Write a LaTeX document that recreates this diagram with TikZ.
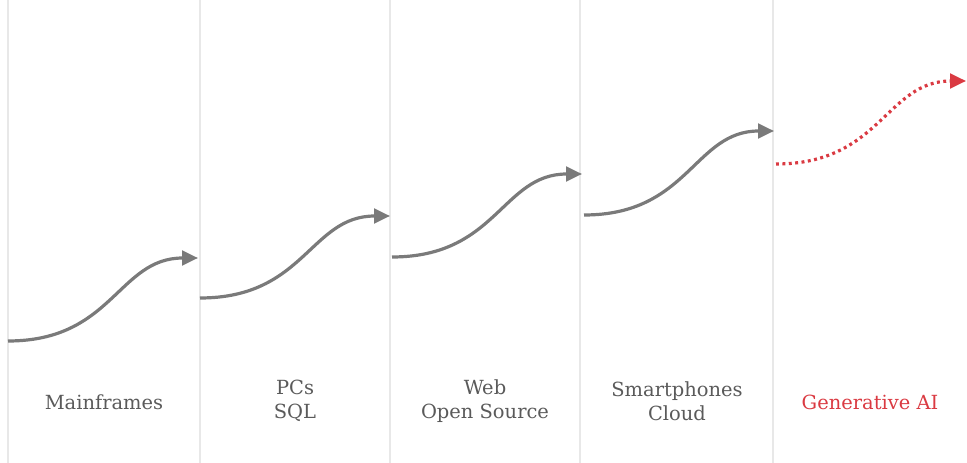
\documentclass[tikz,border=0pt]{standalone}
\usepackage{fontspec}
\setmainfont{DejaVu Serif}
\usetikzlibrary{arrows.meta}
\definecolor{waveGray}{HTML}{7A7A7A}
\definecolor{labelGray}{HTML}{5A5A5A}
\definecolor{aiRed}{HTML}{DA3A42}
\definecolor{sepGray}{HTML}{E8E8E8}
\tikzstyle{sep}=[draw=sepGray, line width=2.2pt]
\tikzstyle{wave}=[draw=waveGray, line width=2.4pt, -{Triangle[length=12pt,width=11pt]}]
\tikzstyle{nextwave}=[draw=aiRed, line width=2.4pt, dash pattern=on 2.2pt off 2.6pt, -{Triangle[length=12pt,width=11pt]}]
\tikzstyle{era}=[align=center, text=labelGray, font=\fontsize{14.6}{18}\selectfont]
\newcommand{\drawwave}[3]
{
  \draw[#1] (#2) .. controls ++(105,0) and ++(-80,0) .. (#3);
}
\begin{document}
\begin{tikzpicture}[x=0.75pt, y=-0.75pt]
	\useasboundingbox (0,0) rectangle (967,463);

	% column separators
	\draw[sep] (8,0) -- (8,463);
	\draw[sep] (200,0) -- (200,463);
	\draw[sep] (390,0) -- (390,463);
	\draw[sep] (580,0) -- (580,463);
	\draw[sep] (773,0) -- (773,463);

	\coordinate (s1) at (8,341);   \coordinate (e1) at (198,258);
	\coordinate (s2) at (200,298); \coordinate (e2) at (390,216);
	\coordinate (s3) at (392,257); \coordinate (e3) at (582,174);
	\coordinate (s4) at (584,215); \coordinate (e4) at (774,131);
	\coordinate (s5) at (776,164); \coordinate (e5) at (966,81);

	\drawwave{wave}{s1}{e1}
	\drawwave{wave}{s2}{e2}
	\drawwave{wave}{s3}{e3}
	\drawwave{wave}{s4}{e4}
	\drawwave{nextwave}{s5}{e5}

	\node[era](mainframes) at (104,402) {Mainframes};
	\node[era](pcs) at (295,401) {PCs\\SQL};
	\node[era](web) at (485,401) {Web\\Open Source};
	\node[era](phones) at (677,401) {Smartphones\\Cloud};
	\node[era, text=aiRed](genai) at (870,402) {Generative AI};
\end{tikzpicture}
\end{document}
